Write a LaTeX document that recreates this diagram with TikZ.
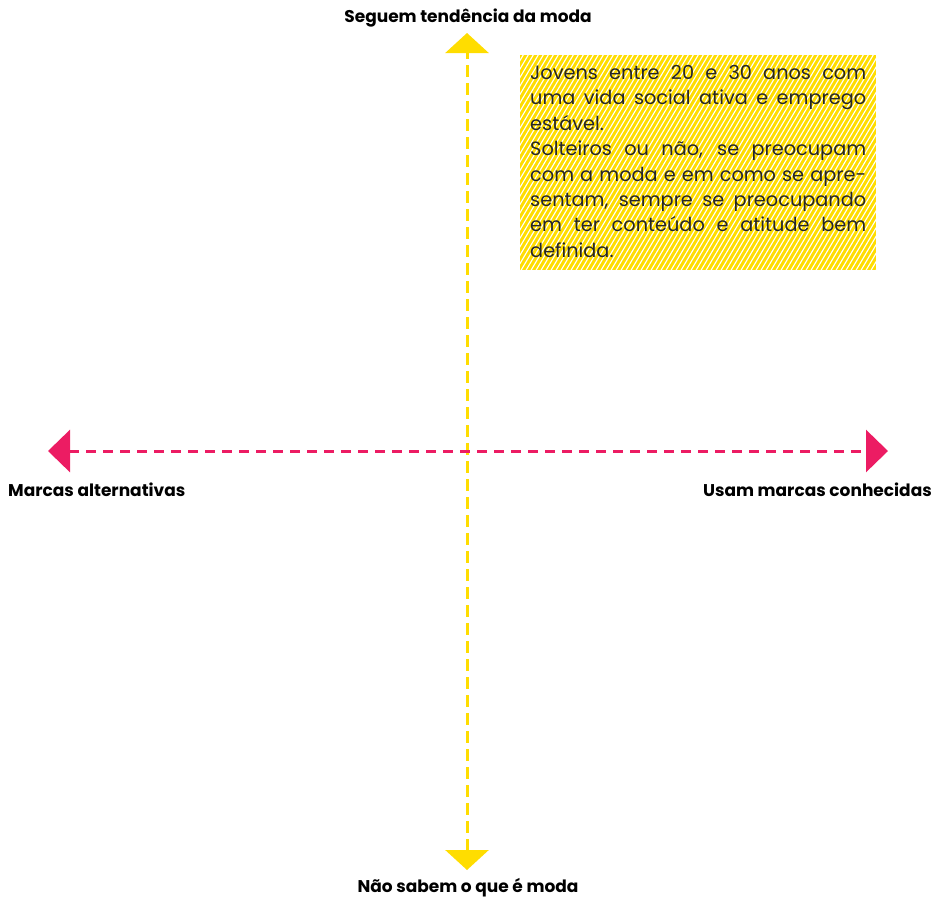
\documentclass[tikz,border=0pt]{standalone}
\usepackage{fontspec}
\setmainfont{Poppins}
\usetikzlibrary{arrows.meta}
\definecolor{amarelo}{HTML}{FFDD00}
\definecolor{rosa}{HTML}{EC1C63}

\begin{document}
\begin{tikzpicture}[x=1pt, y=-1pt,
    eixov/.style={amarelo, line width=3pt, dash pattern=on 12pt off 6pt,
        {Triangle[length=20pt,width=43pt]}-{Triangle[length=20pt,width=43pt]}},
    eixoh/.style={rosa, line width=3pt, dash pattern=on 10pt off 7pt,
        {Triangle[length=22pt,width=42pt]}-{Triangle[length=22pt,width=42pt]}},
    rotulo/.style={font=\fontsize{17}{20}\selectfont\bfseries, inner sep=0pt}]
    \useasboundingbox (0,0) rectangle (933,898);

    % 底纹方框
    \begin{scope}
        \clip (520,55) rectangle (876,270);
        \fill[amarelo] (520,55) rectangle (876,270);
        \foreach \x in {390,395,...,880} {
            \draw[white, line width=1.1pt] (\x,272) -- ++(130,-220);
        }
    \end{scope}
    \node[anchor=north west, inner sep=0pt, text width=336pt, align=justify,
        font=\fontsize{19.3}{25.4}\selectfont, text=black!85] (perfil) at (530,65)
        {Jovens entre 20 e 30 anos com\linebreak uma vida social ativa e emprego\linebreak estável.\par
         Solteiros ou não, se preocupam\linebreak com a moda e em como se apre-\linebreak sentam, sempre se preocupando\linebreak em ter conteúdo e atitude bem\linebreak definida.};

    % 坐标轴
    \coordinate (topo) at (467,33);
    \coordinate (baixo) at (467,870);
    \coordinate (esq) at (48,451);
    \coordinate (dir) at (888,451);
    \draw[eixov] (baixo) -- (topo);
    \draw[eixoh] (esq) -- (dir);

    % 标签
    \node[rotulo] (moda) at (468,18) {Seguem tendência da moda};
    \node[rotulo] (naomoda) at (468,888) {Não sabem o que é moda};
    \node[rotulo, anchor=west] (alternativas) at (8,490) {Marcas alternativas};
    \node[rotulo, anchor=east] (conhecidas) at (932,490) {Usam marcas conhecidas};
\end{tikzpicture}
\end{document}
